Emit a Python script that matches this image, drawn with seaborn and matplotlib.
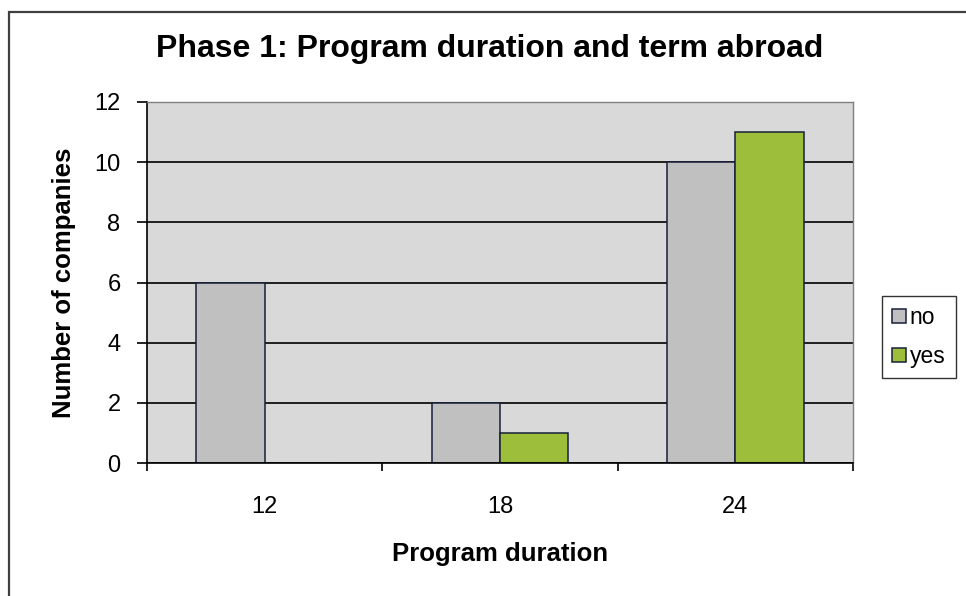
import pandas as pd
import matplotlib
matplotlib.use("Agg")
import matplotlib.pyplot as plt
import seaborn as sns
from matplotlib.patches import Rectangle

# data
durations = ["12", "18", "24"]
no_counts = [6, 2, 10]
yes_counts = [0, 1, 11]

df = pd.DataFrame({
    "Program duration": durations * 2,
    "term abroad": ["no"] * 3 + ["yes"] * 3,
    "Number of companies": no_counts + yes_counts,
})

sns.set_style("white")
plt.rcParams["font.family"] = ["Liberation Sans", "DejaVu Sans"]
plt.rcParams["text.color"] = "black"
plt.rcParams["axes.labelcolor"] = "black"
plt.rcParams["xtick.color"] = "black"
plt.rcParams["ytick.color"] = "black"

fig = plt.figure(figsize=(9.66, 5.96), dpi=100)
ax = fig.add_axes([147 / 966, 1 - 463 / 596, 706 / 966, 361 / 596])
ax.set_facecolor("#D9D9D9")

sns.barplot(
    data=df,
    x="Program duration",
    y="Number of companies",
    hue="term abroad",
    palette={"no": "#C0C0C0", "yes": "#9DBE3A"},
    saturation=1,
    width=0.58,
    edgecolor="#18203A",
    linewidth=1.1,
    ax=ax,
)

# axes, grid and ticks in the old Excel style
ax.set_ylim(0, 12)
ax.set_xlim(-0.5, 2.5)
ax.set_yticks(range(0, 13, 2))
ax.yaxis.grid(True, color="black", linewidth=1.2)
ax.set_axisbelow(True)
ax.tick_params(axis="y", length=7, width=1.2, color="black", pad=12, labelsize=17)
ax.tick_params(axis="x", which="major", length=0, pad=24, labelsize=17)
ax.set_xticks([-0.5, 0.5, 1.5, 2.5], minor=True)
ax.tick_params(axis="x", which="minor", length=6, width=1.2, color="black", direction="out")
ax.xaxis.set_ticks_position("bottom")
ax.yaxis.set_ticks_position("left")

for side in ["left", "bottom"]:
    ax.spines[side].set_color("black")
    ax.spines[side].set_linewidth(1.2)
for side in ["top", "right"]:
    ax.spines[side].set_color("#808080")
    ax.spines[side].set_linewidth(1.0)

ax.set_xlabel("Program duration", fontsize=18.5, fontweight="bold", labelpad=17)
ax.set_ylabel("Number of companies", fontsize=18.5, fontweight="bold", labelpad=13)

fig.text(490 / 966, 1 - 49 / 596, "Phase 1: Program duration and term abroad",
         ha="center", va="center", fontsize=23, fontweight="bold")

# legend on the right
leg = ax.legend(
    loc="center left",
    bbox_to_anchor=(882 / 966, 1 - 337 / 596),
    bbox_transform=fig.transFigure,
    frameon=True,
    fancybox=False,
    edgecolor="black",
    fontsize=16.5,
    handlelength=0.6,
    handleheight=0.6,
    handletextpad=0.15,
    labelspacing=0.7,
    borderpad=0.45,
    borderaxespad=0,
)
leg.get_frame().set_linewidth(1.0)
leg.get_frame().set_facecolor("white")

# chart border
fig.patches.append(Rectangle((9 / 966, -0.05), 1.2, 1 - 12 / 596 + 0.05,
                             transform=fig.transFigure, fill=False,
                             edgecolor="#404040", linewidth=1.6))

fig.savefig("out.png", dpi=100)
